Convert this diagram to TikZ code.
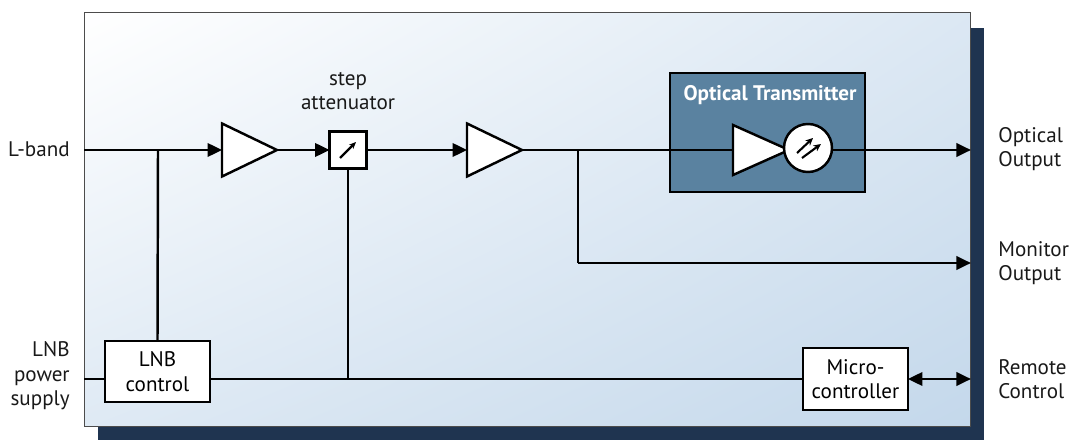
\documentclass[tikz,border=0pt]{standalone}
\usepackage{fontspec}
\setmainfont{PT Sans}
\usetikzlibrary{arrows.meta, positioning, shapes.geometric, calc, shadings}

\definecolor{panelshadow}{HTML}{1F3450}
\definecolor{panellight}{HTML}{C4D8EB}
\definecolor{otblue}{HTML}{5A82A0}

\begin{document}
\begin{tikzpicture}[x=0.02cm,y=-0.02cm,
    edge/.style={line width=1.4pt,black},
    arr/.style={edge,-{Triangle[length=0.29cm,width=0.27cm]}},
    dblarr/.style={edge,{Triangle[length=0.29cm,width=0.27cm]}-{Triangle[length=0.29cm,width=0.27cm]}},
    amp/.style={isosceles triangle,isosceles triangle stretches,draw,line width=1.4pt,fill=white,
      minimum width=1.06cm,minimum height=1.1cm,inner sep=0pt,outer sep=0pt},
    blockbox/.style={rectangle,draw,line width=1.4pt,fill=white,align=center,inner sep=0pt,outer sep=0pt,
      font=\fontsize{12}{14}\selectfont},
    txt/.style={font=\fontsize{12}{14}\selectfont,text=black!90,inner sep=0pt}]
  \useasboundingbox (0,0) rectangle (1072,442);

  % panel with its shadow
  \node[fill=panelshadow,minimum width=17.72cm,minimum height=8.24cm,inner sep=0pt] (shadow) at (541,234) {};
  \node[draw=black!70,line width=0.6pt,inner sep=0pt,outer sep=0pt,minimum width=17.74cm,minimum height=8.3cm,
    upper left=white,upper right=panellight!60,lower left=panellight!55,lower right=panellight] (panel) at (527.5,219.5) {};

  % signal path
  \coordinate (j1) at (158,150);
  \coordinate (j2) at (578,150);
  \node[amp,anchor=west] (amp1) at (222,150) {};
  \node[blockbox,minimum size=0.74cm] (att) at (348,150) {};
  \draw[edge,-{Stealth[length=0.14cm,width=0.12cm]}] ($(att.center)+(-8,8)$) -- ($(att.center)+(8,-8)$);
  \node[txt,align=center,above=0.42cm of att] (attlabel) {step\\attenuator};
  \node[amp,anchor=west] (amp2) at (467,150) {};

  \node[rectangle,draw=black,line width=1.2pt,fill=otblue,minimum width=3.9cm,minimum height=2.38cm] (ot) at (767.5,132.5) {};
  \node[txt,text=white,font=\fontsize{12}{14}\bfseries] (ottitle) at (770,95) {Optical Transmitter};
  \node[amp,anchor=west,minimum width=1.0cm,minimum height=1.12cm] (amp3) at (733,150) {};
  \node[circle,draw,line width=1.4pt,fill=white,minimum size=0.96cm,inner sep=0pt,outer sep=0pt] (pd) at (808,148) {};
  \draw[line width=1.2pt,-{Stealth[length=0.15cm,width=0.14cm]}] ($(pd.center)+(-11,5)$) -- ($(pd.center)+(5,-10)$);
  \draw[line width=1.2pt,-{Stealth[length=0.15cm,width=0.14cm]}] ($(pd.center)+(-6,10)$) -- ($(pd.center)+(13,-4)$);

  % control
  \node[blockbox,minimum width=2.1cm,minimum height=1.22cm] (lnb) at (157.5,371.5) {LNB\\control};
  \node[blockbox,minimum width=2.1cm,minimum height=1.24cm] (mcu) at (855.5,379) {Micro-\\controller};

  % outside labels
  \node[txt,anchor=east] (lband) at (70,149) {L-band};
  \node[txt,anchor=east,align=right] (lnbin) at (70,376) {LNB\\power\\supply};
  \node[txt,anchor=west,align=left] (optout) at (998,149) {Optical\\Output};
  \node[txt,anchor=west,align=left] (monout) at (998,263) {Monitor\\Output};
  \node[txt,anchor=west,align=left] (remote) at (998,379) {Remote\\Control};

  % connectors
  \draw[arr] (j1 -| panel.west) -- (amp1.west);
  \draw[arr] (amp1.east) -- (att.west);
  \draw[arr] (att.east) -- (amp2.west);
  \draw[edge] (amp2.east) -- (amp3.west);
  \draw[arr] (pd.east |- j1) -- (j1 -| panel.east);
  \draw[edge] (j2) |- (j2 |- monout.west);
  \draw[arr] (j2 |- monout.west) -- (monout.west -| panel.east);
  \draw[edge] (j1) -- (lnb.north);
  \draw[edge] (lnb.west |- mcu.west) -- (mcu.west -| panel.west);
  \draw[edge] (lnb.east |- mcu.west) -- (mcu.west);
  \draw[edge] (att.south) -- (att.south |- mcu.west);
  \draw[dblarr] (mcu.east) -- (mcu.east -| panel.east);
\end{tikzpicture}
\end{document}
